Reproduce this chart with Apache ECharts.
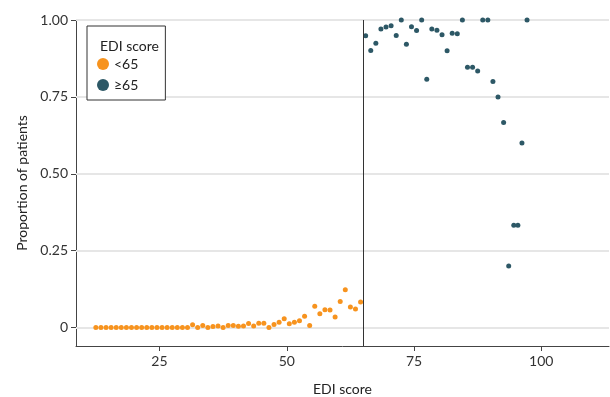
<!DOCTYPE html>
<html>
<head>
<meta charset="utf-8">
<script src="https://cdn.jsdelivr.net/npm/echarts@6/dist/echarts.min.js"></script>
<style>html,body{margin:0;padding:0;background:#fff}#c{width:610px;height:397px}</style>
</head>
<body>
<div id="c"></div>
<script>
// EDI score bins (x) and proportion of patients (y)
const lowX = [12.5,13.5,14.5,15.5,16.5,17.5,18.5,19.5,20.5,21.5,22.5,23.5,24.5,25.5,26.5,27.5,28.5,29.5,30.5,
  31.5,32.5,33.5,34.5,35.5,36.5,37.5,38.5,39.5,40.5,41.5,42.5,43.5,44.5,45.5,46.5,47.5,48.5,49.5,50.5,
  51.5,52.5,53.5,54.5,55.5,56.5,57.5,58.5,59.5,60.5,61.5,62.5,63.5,64.5];
const lowY = [0,0,0,0,0,0,0,0,0,0,0,0,0,0,0,0,0,0,0,
  0.009,0,0.0065,0,0.003,0.0054,0,0.0065,0.0065,0.004,0.0054,0.013,0.0054,0.014,0.014,0,0.0098,0.017,0.029,0.012,
  0.017,0.022,0.037,0.0065,0.069,0.045,0.058,0.057,0.034,0.085,0.123,0.067,0.06,0.083];
const highX = [65.5,66.5,67.5,68.5,69.5,70.5,71.5,72.5,73.5,74.5,75.5,76.5,77.5,78.5,79.5,80.5,81.5,82.5,83.5,
  84.5,85.5,86.5,87.5,88.5,89.5,90.5,91.5,92.6,93.6,94.6,95.4,96.2,97.2];
const highY = [0.949,0.901,0.924,0.971,0.977,0.981,0.950,1.0,0.921,0.978,0.966,1.0,0.807,0.971,0.967,0.952,0.90,0.957,0.955,
  1.0,0.846,0.846,0.834,1.0,1.0,0.80,0.75,0.667,0.20,0.333,0.333,0.60,1.0];
const xTicks = [25,50,75,100];
const yTicks = [0,0.25,0.5,0.75,1];
const seriesNames = ['<65','≥65'];
const cutoff = 65;

const FONT = 'Lato, "Noto Sans", sans-serif';
const chart = echarts.init(document.getElementById('c'), null, {renderer:'canvas'});
const pair = (xs, ys) => xs.map((x,i)=>[x, ys[i]]);
chart.setOption({
  animation:false,
  textStyle:{fontFamily:FONT},
  grid:{left:76, right:1, top:20, bottom:51, containLabel:false, outerBoundsMode:'none'},
  title:{text:'EDI score', left:95, top:34, textStyle:{fontFamily:FONT, fontSize:14, fontWeight:'normal', color:'#222'}, z:10},
  legend:{
    orient:'vertical', left:87, top:26,
    padding:[31,27,8,10], itemGap:7, itemWidth:12, itemHeight:12, itemTextGap:8,
    borderColor:'#333', borderWidth:1, backgroundColor:'#fff',
    icon:'circle',
    textStyle:{fontFamily:FONT, fontSize:14, color:'#222'},
    data:seriesNames
  },
  xAxis:{
    type:'value', min:8.6, max:113.3,
    name:'EDI score', nameLocation:'middle', nameGap:36,
    nameTextStyle:{fontFamily:FONT, fontSize:14, color:'#222'},
    axisLine:{show:true, onZero:false, lineStyle:{color:'#444', width:1}},
    axisTick:{show:true, length:5, customValues:xTicks, lineStyle:{color:'#444'}},
    axisLabel:{customValues:xTicks, fontSize:14, color:'#333', margin:8, fontFamily:FONT},
    splitLine:{show:false}
  },
  yAxis:{
    type:'value', min:-0.06, max:1,
    name:'Proportion of patients', nameLocation:'middle', nameGap:47,
    nameTextStyle:{fontFamily:FONT, fontSize:14, color:'#222'},
    axisLine:{show:true, onZero:false, lineStyle:{color:'#444', width:1}},
    axisTick:{show:true, length:5, customValues:yTicks, lineStyle:{color:'#444'}},
    axisLabel:{customValues:yTicks, fontSize:14, color:'#333', margin:8, fontFamily:FONT,
      formatter:v=> v===0 ? '0' : v.toFixed(2)},
    splitLine:{show:false}
  },
  series:[
    {name:'grid', type:'line', data:[], z:1, silent:true,
     markLine:{silent:true, symbol:'none', label:{show:false}, animation:false, z:1,
       lineStyle:{color:'#e6e6e6', width:2, type:'solid'},
       data:yTicks.map(v=>({yAxis:v}))}},
    {name:seriesNames[0], type:'scatter', symbolSize:5, itemStyle:{color:'#F7931E', opacity:1}, data:pair(lowX, lowY), z:3},
    {name:seriesNames[1], type:'scatter', symbolSize:5, itemStyle:{color:'#2D5866', opacity:1}, data:pair(highX, highY), z:3,
     markLine:{silent:true, symbol:'none', label:{show:false}, animation:false,
       lineStyle:{color:'#333', width:1, type:'solid'},
       data:[{xAxis:cutoff}]}}
  ]
});
</script>
</body>
</html>
